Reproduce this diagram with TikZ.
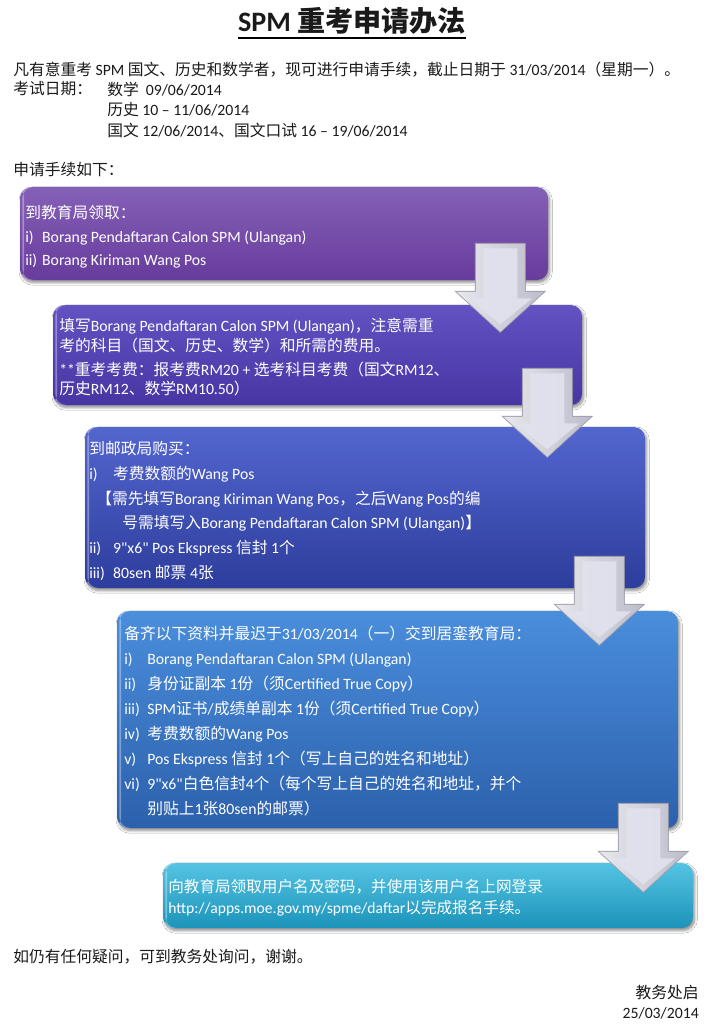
\documentclass[tikz,border=0pt]{standalone}
\usepackage{fontspec}
\setmainfont{Carlito}
\newfontfamily\latinplain{Carlito}
\newfontfamily\cjkfont{Noto Sans CJK SC}
\usetikzlibrary{positioning, calc, fit, shadows.blur}
% CJK characters switch to the CJK family automatically
\XeTeXinterchartokenstate=1
\newXeTeXintercharclass\cjkcls
\newcount\cjkn
\newcommand\cjkrange[2]{\cjkn=#1 \loop\XeTeXcharclass\cjkn=\cjkcls
  \ifnum\cjkn<#2 \advance\cjkn by 1 \repeat}
\cjkrange{"3000}{"303F}
\cjkrange{"4E00}{"9FFF}
\cjkrange{"FF00}{"FFEF}
\XeTeXinterchartoks 0 \cjkcls = {\cjkfont}
\XeTeXinterchartoks 4095 \cjkcls = {\cjkfont}
\XeTeXinterchartoks \cjkcls 0 = {\rmfamily}
\XeTeXinterchartoks \cjkcls 4095 = {\rmfamily}

\definecolor{ink}{HTML}{1A1A1A}
\definecolor{violettop}{HTML}{8560B7}
\definecolor{violetbot}{HTML}{673C9C}
\definecolor{indigotop}{HTML}{6252C2}
\definecolor{indigobot}{HTML}{4735A3}
\definecolor{royaltop}{HTML}{5366CF}
\definecolor{royalbot}{HTML}{2D3D9C}
\definecolor{skytop}{HTML}{4A8EDC}
\definecolor{skybot}{HTML}{2C60AC}
\definecolor{cyantop}{HTML}{55C4E3}
\definecolor{cyanbot}{HTML}{1C93BA}
\definecolor{arrowedge}{HTML}{A4A4B6}
\definecolor{arrowlight}{HTML}{F4F4F9}
\definecolor{arrowdark}{HTML}{C6C6D5}
\definecolor{arrowface}{HTML}{E2E2EE}

\newcommand\itm[2][12pt]{\makebox[#1][l]{#2}}
\newcommand\nine{{\latinplain 9"x6"}}

\tikzset{
  txt/.style={inner sep=0pt, text=ink, font=\fontsize{11.2}{14.4}\selectfont},
  boxtxt/.style={inner sep=0pt, text=white, align=left, anchor=north west},
  stepbox/.style={rounded corners=8pt, inner sep=0pt, draw=none,
    blur shadow={shadow xshift=1.2pt, shadow yshift=-1.8pt,
                 shadow blur steps=6, shadow opacity=45},
    path picture={\fill[white, opacity=.35]
      ([xshift=1.6pt]path picture bounding box.south west) rectangle
      ([xshift=3pt]path picture bounding box.north west);}},
  flowdown/.pic={
    \filldraw[draw=arrowedge, line width=0.5pt, left color=arrowlight,
              right color=arrowdark, fill opacity=.95]
      (-25,0) -- (25,0) -- (25,48) -- (45,48) -- (0,89) -- (-45,48)
      -- (-25,48) -- cycle;
    \fill[arrowface, fill opacity=.9]
      (-17,5) -- (17,5) -- (17,55) -- (32,55) -- (0,81) -- (-32,55)
      -- (-17,55) -- cycle;
  },
}

\begin{document}
\begin{tikzpicture}[x=0.025cm, y=-0.025cm]
  \path[use as bounding box, fill=white] (0,0) rectangle (723,1024);

  % heading and introduction
  \node[txt, font=\fontsize{20}{24}\selectfont\bfseries] (title) at (352,21)
    {SPM 重考申请办法};
  \draw[line width=1.4pt] ([yshift=-4.5pt]title.base west)
    -- ([yshift=-4.5pt]title.base east);

  \node[txt, anchor=west] (intro) at (13,70)
    {凡有意重考 SPM 国文、历史和数学者，现可进行申请手续，截止日期于 31/03/2014（星期一）。};
  \node[txt, anchor=west] (datelbl) at (13,89) {考试日期：};
  \node[txt, anchor=north west, align=left] (dates) at (107,82)
    {数学~~09/06/2014\\
     历史 10 – 11/06/2014\\
     国文 12/06/2014、国文口试 16 – 19/06/2014};
  \node[txt, anchor=west] (steps) at (13,170) {申请手续如下：};

  % the five steps
  \node[stepbox, top color=violettop, bottom color=violetbot,
        fit={(20,187) (548,280)}] (s1) {};
  \node[stepbox, top color=indigotop, bottom color=indigobot,
        fit={(53,305) (582,405)}] (s2) {};
  \node[stepbox, top color=royaltop, bottom color=royalbot,
        fit={(85,427) (645,588)}] (s3) {};
  \node[stepbox, top color=skytop, bottom color=skybot,
        fit={(117,611) (678,828)}] (s4) {};
  \node[stepbox, top color=cyantop, bottom color=cyanbot,
        fit={(163,863) (693,928)}] (s5) {};

  % block arrows between the steps
  \coordinate (a1) at ($(s1.south east)+(-48,-37)$);
  \coordinate (a2) at ($(s2.south east)+(-35,-37)$);
  \coordinate (a3) at ($(s3.south east)+(-46,-32)$);
  \coordinate (a4) at ($(s4.south east)+(-35,-25)$);
  \foreach \a in {a1,a2,a3,a4}
    \pic at (\a) {flowdown};

  \node[boxtxt, font=\fontsize{11.2}{16.7}\selectfont] (t1) at (25,205)
    {到教育局领取：\\
     \itm{i)}Borang Pendaftaran Calon SPM (Ulangan)\\
     \itm{ii)}Borang Kiriman Wang Pos};

  \node[boxtxt, font=\fontsize{11.2}{13.9}\selectfont] (t2) at (59,318)
    {填写Borang Pendaftaran Calon SPM (Ulangan)，注意需重\\
     考的科目（国文、历史、数学）和所需的费用。\\[3.2pt]
     **重考考费：报考费RM20 + 选考科目考费（国文RM12、\\
     历史RM12、数学RM10.50）};

  \node[boxtxt, font=\fontsize{11.2}{17.6}\selectfont] (t3) at (89,441)
    {到邮政局购买：\\
     \itm[17pt]{i)}考费数额的Wang Pos\\
     \hspace*{5pt}【需先填写Borang Kiriman Wang Pos，之后Wang Pos的编\\
     \hspace*{23.5pt}号需填写入Borang Pendaftaran Calon SPM (Ulangan)】\\
     \itm[17pt]{ii)}\nine{} Pos Ekspress 信封 1个\\
     \itm[17pt]{iii)}80sen 邮票 4张};

  \node[boxtxt, font=\fontsize{11.2}{17.8}\selectfont] (t4) at (124,626)
    {备齐以下资料并最迟于31/03/2014（一）交到居銮教育局：\\
     \itm[16.4pt]{i)}Borang Pendaftaran Calon SPM (Ulangan)\\
     \itm[16.4pt]{ii)}身份证副本 1份（须Certified True Copy）\\
     \itm[16.4pt]{iii)}SPM证书/成绩单副本 1份（须Certified True Copy）\\
     \itm[16.4pt]{iv)}考费数额的Wang Pos\\
     \itm[16.4pt]{v)}Pos Ekspress 信封 1个（写上自己的姓名和地址）\\
     \itm[16.4pt]{vi)}\nine{}白色信封4个（每个写上自己的姓名和地址，并个\\
     \hspace*{16.4pt}别贴上1张80sen的邮票）};

  \node[boxtxt, font=\fontsize{11.1}{14.9}\selectfont] (t5) at (168,879)
    {向教育局领取用户名及密码，并使用该用户名上网登录\\
     http://apps.moe.gov.my/spme/daftar以完成报名手续。};

  % closing lines
  \node[txt, anchor=west] (footer) at (13,957)
    {如仍有任何疑问，可到教务处询问，谢谢。};
  \node[txt, anchor=north east, align=right] (sign) at (699,985)
    {教务处启\\25/03/2014};
\end{tikzpicture}
\end{document}
